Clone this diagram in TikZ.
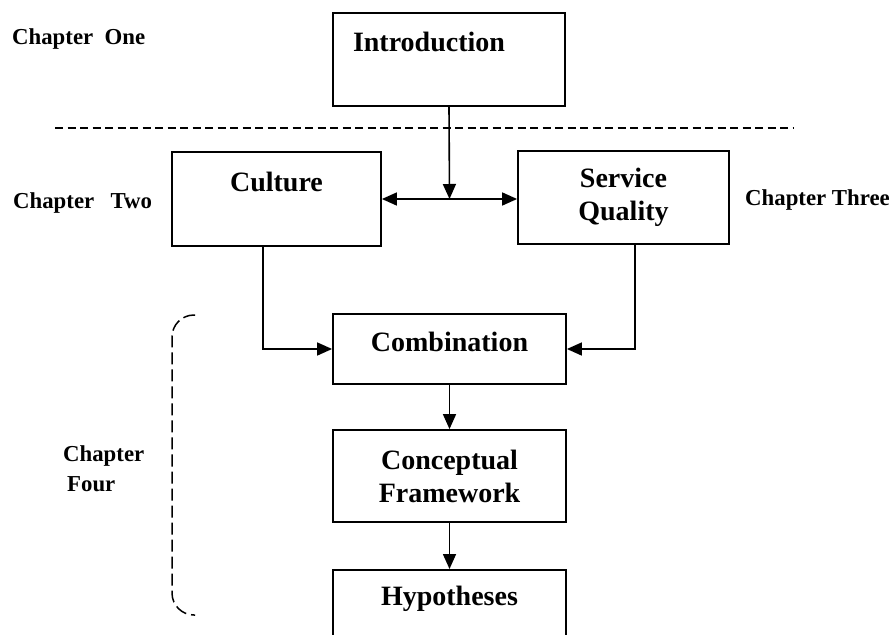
\documentclass[tikz,border=0pt]{standalone}
\usepackage{fontspec}
\setmainfont{Liberation Serif}
\usetikzlibrary{arrows.meta}

\tikzset{
  box/.style={draw, line width=1.8pt, inner xsep=0pt, inner ysep=0pt,
    font=\fontsize{28}{33}\selectfont\bfseries, align=center},
  chap/.style={inner sep=0pt, font=\fontsize{22.8}{30}\selectfont\bfseries},
  tip/.style={Triangle[length=15pt,width=13pt]},
  link/.style={line width=1.6pt, -{Triangle[length=15pt,width=13pt]}},
  bothlink/.style={line width=1.6pt, {Triangle[length=15pt,width=13pt]}-{Triangle[length=15pt,width=13pt]}},
  divider/.style={line width=1.6pt, dash pattern=on 8pt off 4.5pt},
  brace/.style={line width=1.5pt, dash pattern=on 12pt off 5pt, rounded corners=22pt}
}

\begin{document}
\begin{tikzpicture}[x=1pt, y=-1pt]
  \clip (0,0) rectangle (893,634);
  \fill[white] (0,0) rectangle (893,634);

  % chapter one
  \node[box, text width=192pt, inner xsep=20pt, align=left,
        text height=39pt, text depth=54pt] (intro) at (449,59.5) {Introduction};

  \draw[divider] (55,128) -- (793,128);

  % chapters two and three
  \node[box, minimum width=209pt, text height=39pt, text depth=55pt]
        (culture) at (276.5,199) {Culture};
  \node[box, minimum width=211pt, minimum height=93pt]
        (service) at (623.5,197.5) {Service\\Quality};

  % chapter four
  \node[box, minimum width=233pt, text height=37pt, text depth=33pt]
        (comb) at (449.5,349) {Combination};
  \node[box, minimum width=233pt, minimum height=92pt]
        (concept) at (449.5,476) {Conceptual\\Framework};
  \node[box, minimum width=233pt, text height=36pt, text depth=60pt, anchor=north]
        (hyp) at (449.5,569) {Hypotheses};

  % chapter labels
  \node[chap, anchor=base west] (c1) at (12,45) {Chapter\hspace{0.5em}One};
  \node[chap, anchor=base west] (c2) at (13,208) {Chapter\hspace{0.72em}Two};
  \node[chap, anchor=base west] (c3) at (745,205) {Chapter Three};
  \node[chap, anchor=west, align=left] (c4) at (63,469) {Chapter\\\hspace*{4pt}Four};

  % dashed bracket grouping chapter four
  \draw[brace] (195,315) -- (172,315) -- (172,615) -- (195,615);

  % connectors
  \coordinate (j) at (449.5,199);
  \coordinate (cdrop) at (263,0);
  \coordinate (sdrop) at (635,0);
  \draw[link] (intro.south) -- (j);
  \draw[bothlink] (culture.east |- j) -- (service.west |- j);
  \draw[link] (culture.south -| cdrop) |- (comb.west);
  \draw[link] (service.south -| sdrop) |- (comb.east);
  \draw[link] (comb.south) -- (concept.north);
  \draw[link] (concept.south) -- (hyp.north);
\end{tikzpicture}
\end{document}
